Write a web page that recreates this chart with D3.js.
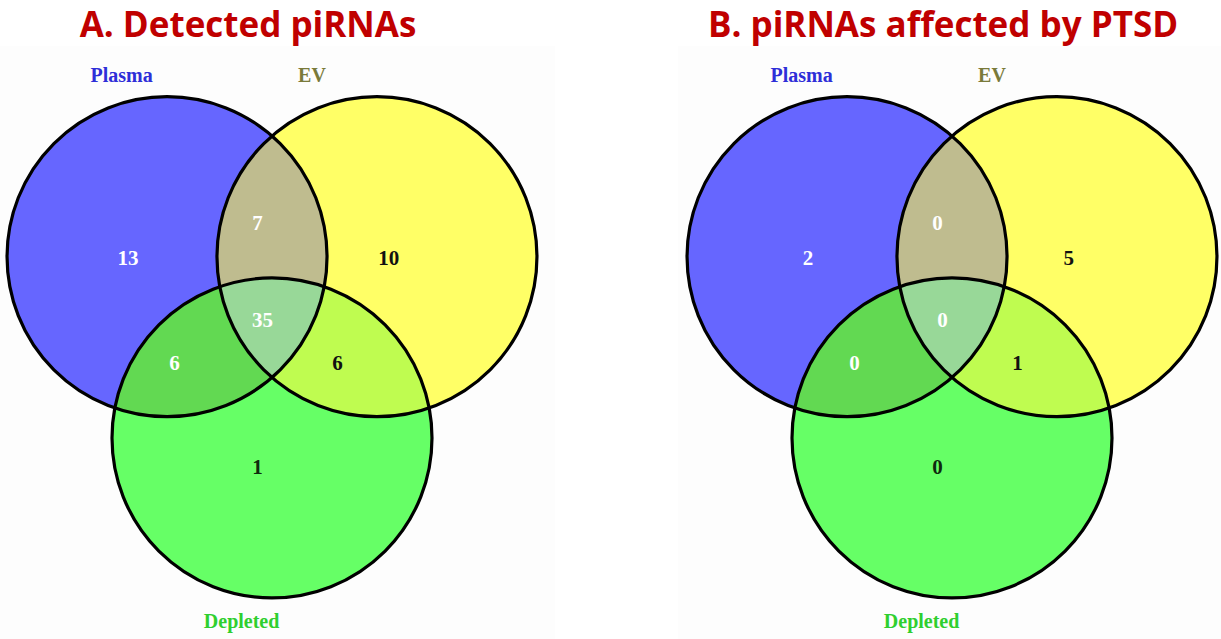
<!DOCTYPE html>
<html>
<head>
<meta charset="utf-8">
<script src="https://cdn.jsdelivr.net/npm/d3@7"></script>
<style>
  body { margin: 0; background: #fff; }
  svg { display: block; }
</style>
</head>
<body>
<svg id="chart"></svg>
<script>
const width = 1221;
const height = 639;

// sets and region counts
const setNames = ["Plasma", "EV", "Depleted"];
const regionKeys = ["P", "E", "D", "PE", "PD", "ED", "PED"];
const detectedCounts = [13, 10, 1, 7, 6, 6, 35];
const ptsdCounts = [2, 5, 0, 0, 0, 1, 0];
const panelTitles = ["A. Detected piRNAs", "B. piRNAs affected by PTSD"];

// layout (unit space, radius = 1)
const circleUnits = [[-0.656, -0.377], [0.656, -0.377], [0, 0.756]];
const setLabelUnits = [[-0.94, -1.51], [0.25, -1.51], [-0.19, 1.9]];
const regionUnits = {
    P: [-0.90, -0.37], E: [0.73, -0.37], D: [-0.09, 0.94],
    PE: [-0.09, -0.59], PD: [-0.61, 0.29], ED: [0.41, 0.29], PED: [-0.06, 0.02]
};
const setFill = ["#6666ff", "#ffff66", "#66ff66"];
const setText = ["#2e2ed8", "#7a7a3a", "#2fcf2f"];
const regionFill = { PE: "#bfbc8f", PD: "#62d952", ED: "#bffc50", PED: "#98d898" };
const regionText = { P: "#fff", E: "#111", D: "#0e2a0e", PE: "#fff", PD: "#fff", ED: "#111", PED: "#fff" };

const svg = d3.select("#chart").attr("width", width).attr("height", height);
const defs = svg.append("defs");

const panels = [
    { title: panelTitles[0], counts: detectedCounts, cx: 272, cy: 317, titleX: 248, box: [0, 555] },
    { title: panelTitles[1], counts: ptsdCounts, cx: 952, cy: 317, titleX: 943, box: [678, 1221] }
];

panels.forEach((p, pi) => {
    const r = 160;
    const x = d3.scaleLinear().domain([0, 1]).range([p.cx, p.cx + r]);
    const y = d3.scaleLinear().domain([0, 1]).range([p.cy, p.cy + r]);

    svg.append("rect")
        .attr("x", p.box[0]).attr("y", 46)
        .attr("width", p.box[1] - p.box[0]).attr("height", height - 46)
        .attr("fill", "#fdfdfd");

    const g = svg.append("g");
    const circles = circleUnits.map(c => ({ cx: x(c[0]), cy: y(c[1]), r: x(1) - x(0) }));

    circles.forEach((c, i) => {
        defs.append("clipPath").attr("id", `clip${pi}_${i}`)
            .append("circle").attr("cx", c.cx).attr("cy", c.cy).attr("r", c.r);
    });

    // base fills
    g.selectAll("circle.fill")
        .data(circles)
        .enter().append("circle")
        .attr("class", "fill")
        .attr("cx", d => d.cx).attr("cy", d => d.cy).attr("r", d => d.r)
        .attr("fill", (d, i) => setFill[i]);

    // pairwise overlaps
    const pairs = [["PE", 0, 1], ["PD", 0, 2], ["ED", 1, 2]];
    pairs.forEach(([key, a, b]) => {
        g.append("circle")
            .attr("clip-path", `url(#clip${pi}_${a})`)
            .attr("cx", circles[b].cx).attr("cy", circles[b].cy).attr("r", circles[b].r)
            .attr("fill", regionFill[key]);
    });

    // triple overlap
    g.append("g").attr("clip-path", `url(#clip${pi}_0)`)
        .append("circle")
        .attr("clip-path", `url(#clip${pi}_1)`)
        .attr("cx", circles[2].cx).attr("cy", circles[2].cy).attr("r", circles[2].r)
        .attr("fill", regionFill.PED);

    // outlines
    g.selectAll("circle.edge")
        .data(circles)
        .enter().append("circle")
        .attr("class", "edge")
        .attr("cx", d => d.cx).attr("cy", d => d.cy).attr("r", d => d.r)
        .attr("fill", "none")
        .attr("stroke", "#000")
        .attr("stroke-width", 3.2);

    // counts
    g.selectAll("text.count")
        .data(regionKeys.map((k, i) => ({ key: k, value: p.counts[i] })))
        .enter().append("text")
        .attr("class", "count")
        .attr("x", d => x(regionUnits[d.key][0]))
        .attr("y", d => y(regionUnits[d.key][1]))
        .attr("text-anchor", "middle")
        .attr("dominant-baseline", "central")
        .attr("font-family", "'Liberation Serif', 'DejaVu Serif', serif")
        .attr("font-weight", "bold")
        .attr("font-size", 21)
        .attr("fill", d => regionText[d.key])
        .text(d => d.value);

    // set labels
    g.selectAll("text.set")
        .data(setNames)
        .enter().append("text")
        .attr("class", "set")
        .attr("x", (d, i) => x(setLabelUnits[i][0]))
        .attr("y", (d, i) => y(setLabelUnits[i][1]))
        .attr("text-anchor", "middle")
        .attr("dominant-baseline", "central")
        .attr("font-family", "'Liberation Serif', 'DejaVu Serif', serif")
        .attr("font-weight", "bold")
        .attr("font-size", 20)
        .attr("fill", (d, i) => setText[i])
        .text(d => d);

    // panel title
    svg.append("text")
        .attr("x", p.titleX)
        .attr("y", 37)
        .attr("text-anchor", "middle")
        .attr("font-family", "'Open Sans', 'Liberation Sans', sans-serif")
        .attr("font-weight", "bold")
        .attr("font-size", 35)
        .attr("fill", "#c00000")
        .text(p.title);
});
</script>
</body>
</html>
